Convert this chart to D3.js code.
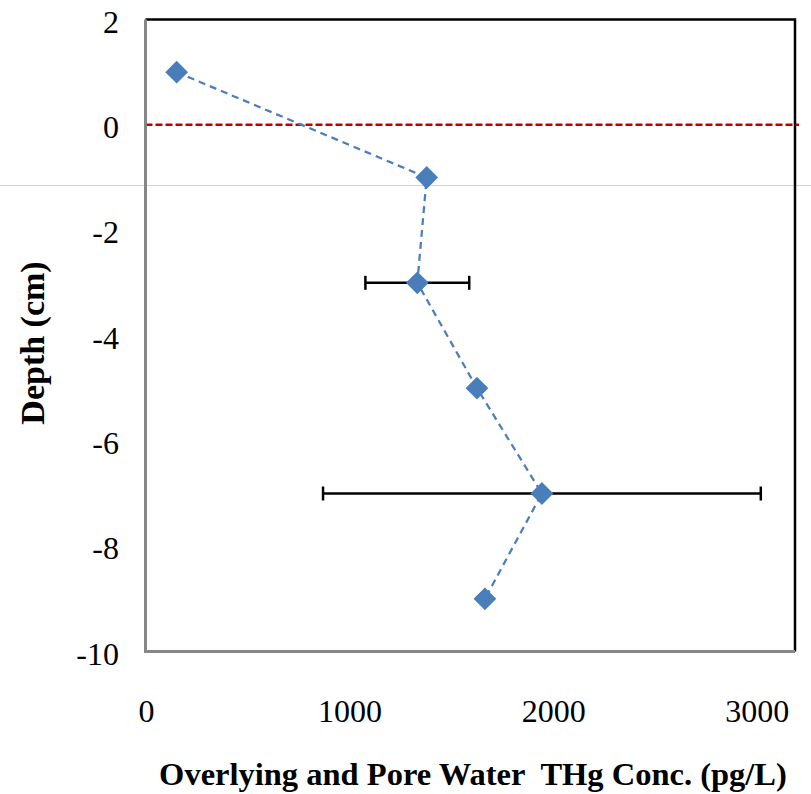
<!DOCTYPE html>
<html>
<head>
<meta charset="utf-8">
<script src="https://cdn.jsdelivr.net/npm/d3@7"></script>
<style>
    body { margin: 0; background: #fff; }
    svg { display: block; }
</style>
</head>
<body>
<script>
(function(){

    //data
    var concValues = [153, 1381, 1335, 1628, 1947, 1667];   //THg conc. (pg/L)
    var depthValues = [1, -1, -3, -5, -7, -9];              //depth (cm)
    var errorValues = [0, 0, 255, 0, 1075, 0];              //horizontal error (+/-)
    var xTicks = [0, 1000, 2000, 3000];
    var yTicks = [2, 0, -2, -4, -6, -8, -10];

    var width = 811,
        height = 794,
        serif = "'Liberation Serif', 'Times New Roman', Times, serif";

    var svg = d3.select("body")
        .append("svg")
        .attr("width", width)
        .attr("height", height);

    //scales
    var x = d3.scaleLinear()
        .domain([0, 3190])
        .range([145.5, 795]);
    var y = d3.scaleLinear()
        .domain([-10, 2])
        .range([651.5, 19.5]);

    var points = concValues.map(function(c, i){
        return { conc: c, depth: depthValues[i], err: errorValues[i] };
    });

    //faint horizontal guide across the picture
    svg.append("line")
        .attr("x1", 0)
        .attr("x2", width)
        .attr("y1", 185.5)
        .attr("y2", 185.5)
        .attr("stroke", "#f0cf8c")
        .attr("stroke-width", 1);

    //plot area frame: top and right black
    svg.append("path")
        .attr("d", "M" + x(0) + "," + y(2) + "H" + x.range()[1] + "V" + y(-10))
        .attr("fill", "none")
        .attr("stroke", "#000")
        .attr("stroke-width", 2.5);

    //zero line
    svg.append("line")
        .attr("x1", x(0))
        .attr("x2", x.range()[1] + 4)
        .attr("y1", y(0))
        .attr("y2", y(0))
        .attr("stroke", "#c00000")
        .attr("stroke-width", 2.5)
        .attr("stroke-dasharray", "7,3");

    //axis lines (gray)
    svg.append("path")
        .attr("d", "M" + x(0) + "," + y(2) + "V" + y(-10) + "H" + x.range()[1])
        .attr("fill", "none")
        .attr("stroke", "#868686")
        .attr("stroke-width", 3);

    //y tick labels
    svg.selectAll(".ylab")
        .data(yTicks)
        .enter()
        .append("text")
        .attr("font-family", serif)
        .attr("font-size", 32)
        .attr("text-anchor", "end")
        .attr("x", 119)
        .attr("y", function(d){ return y(d) + 13; })
        .text(function(d){ return d; });

    //x tick labels
    svg.selectAll(".xlab")
        .data(xTicks)
        .enter()
        .append("text")
        .attr("font-family", serif)
        .attr("font-size", 32)
        .attr("text-anchor", "middle")
        .attr("x", function(d){ return x(d) + 1; })
        .attr("y", 722)
        .text(function(d){ return d; });

    //connecting dashed line
    var line = d3.line()
        .x(function(d){ return x(d.conc); })
        .y(function(d){ return y(d.depth); });

    svg.append("path")
        .datum(points)
        .attr("d", line)
        .attr("fill", "none")
        .attr("stroke", "#4a7ebb")
        .attr("stroke-width", 2.25)
        .attr("stroke-dasharray", "7,5");

    //error bars
    var errs = svg.selectAll(".err")
        .data(points.filter(function(d){ return d.err > 0; }))
        .enter()
        .append("g")
        .attr("class", "err")
        .attr("stroke", "#000")
        .attr("stroke-width", 2.5);
    errs.append("line")
        .attr("x1", function(d){ return x(d.conc - d.err); })
        .attr("x2", function(d){ return x(d.conc + d.err); })
        .attr("y1", function(d){ return y(d.depth); })
        .attr("y2", function(d){ return y(d.depth); });
    errs.append("line")
        .attr("x1", function(d){ return x(d.conc - d.err); })
        .attr("x2", function(d){ return x(d.conc - d.err); })
        .attr("y1", function(d){ return y(d.depth) - 7; })
        .attr("y2", function(d){ return y(d.depth) + 7; });
    errs.append("line")
        .attr("x1", function(d){ return x(d.conc + d.err); })
        .attr("x2", function(d){ return x(d.conc + d.err); })
        .attr("y1", function(d){ return y(d.depth) - 7; })
        .attr("y2", function(d){ return y(d.depth) + 7; });

    //diamond markers
    var diamond = d3.symbol().type(d3.symbolDiamond2).size(330);
    svg.selectAll(".marker")
        .data(points)
        .enter()
        .append("path")
        .attr("class", "marker")
        .attr("d", diamond)
        .attr("transform", function(d){
            return "translate(" + x(d.conc) + "," + y(d.depth) + ")";
        })
        .attr("fill", "#4a7ebb");

    //axis titles
    svg.append("text")
        .attr("font-family", serif)
        .attr("font-weight", "bold")
        .attr("font-size", 32.5)
        .attr("text-anchor", "middle")
        .attr("x", 473)
        .attr("y", 785)
        .attr("xml:space", "preserve")
        .text("Overlying and Pore Water  THg Conc. (pg/L)");

    svg.append("text")
        .attr("font-family", serif)
        .attr("font-weight", "bold")
        .attr("font-size", 34)
        .attr("text-anchor", "middle")
        .attr("transform", "translate(44,343) rotate(-90)")
        .text("Depth (cm)");

})();
</script>
</body>
</html>
